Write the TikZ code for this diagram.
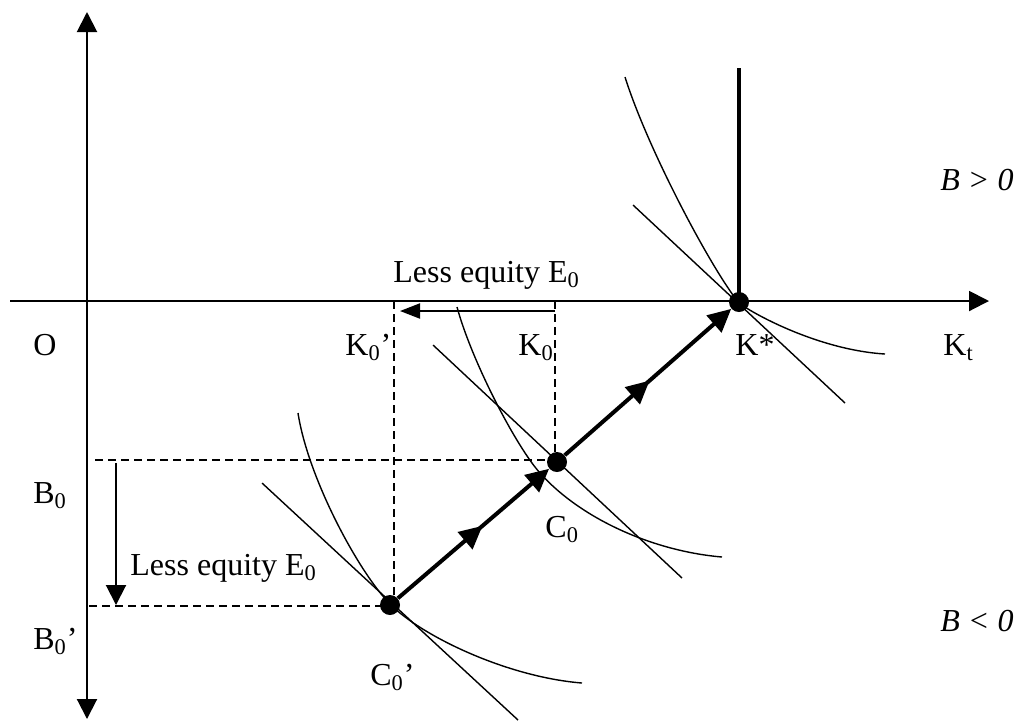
\documentclass[tikz,border=0pt]{standalone}
\usepackage{fontspec}
\setmainfont{Liberation Serif}
\usetikzlibrary{arrows.meta,decorations.markings}
\begin{document}
\begin{tikzpicture}[x=0.5pt,y=-0.5pt,
  axisline/.style={line width=1pt},
  curveline/.style={line width=0.7pt},
  guide/.style={line width=0.75pt,dash pattern=on 4pt off 2.5pt},
  dot/.style={circle,fill=black,inner sep=0pt,minimum size=10pt},
  lbl/.style={anchor=base west,inner sep=0pt,font=\fontsize{16}{19}\selectfont},
  thickpath/.style={line width=2pt},
  bigtip/.style={-{Triangle[length=11.5pt,width=11pt]}},
  axtip/.style={-{Triangle[length=10pt,width=10pt]}},
]
\useasboundingbox (0,0) rectangle (1016,720);

% axes
\draw[axisline,{Triangle[length=10pt,width=10pt]}-{Triangle[length=10pt,width=10pt]}] (87,719) -- (87,12);
\draw[axisline,axtip] (10,301) -- (989,301);

% indifference curves and tangent lines
\draw[curveline] (625,77) .. controls (648,150) and (712,270) .. (739,303) .. controls (755,315) and (820,350) .. (885,354);
\draw[curveline] (633,205) -- (845,403);
\draw[curveline] (457,307) .. controls (472,362) and (516.5,447) .. (540,473) .. controls (580,518) and (652,551) .. (722,557);
\draw[curveline] (433,345) -- (682,578);
\draw[curveline] (298,413) .. controls (308,478) and (358.5,572) .. (390,604) .. controls (421.5,636) and (507,677) .. (582,683);
\draw[curveline] (262,483) -- (518,720);

% dashed guides
\draw[guide] (394,301) -- (394,598);
\draw[guide] (555,301) -- (555,455);
\draw[guide] (95,460) -- (550,460);
\draw[guide] (89,606) -- (382,606);

% "less equity" arrows
\coordinate (hA) at (555,311);
\coordinate (hB) at (400,311);
\draw[axisline,-{Triangle[length=10pt,width=7.5pt]}] (hA) -- (hB);
\coordinate (vA) at (116,463);
\coordinate (vB) at (116,605);
\draw[axisline,axtip] (vA) -- (vB);

% points
\node[dot] (ks) at (739,302) {};
\node[dot] (c0) at (557,462) {};
\node[dot] (c0p) at (390,605) {};
\coordinate (kstop) at (739,68);
\draw[thickpath] (ks.center) -- (kstop);

\draw[thickpath,bigtip,postaction={decorate},
  decoration={markings,mark=at position 0.56 with {\arrow{Triangle[length=11.5pt,width=11pt]}}}]
  (c0p) -- (c0);
\draw[thickpath,bigtip,postaction={decorate},
  decoration={markings,mark=at position 0.51 with {\arrow{Triangle[length=11.5pt,width=11pt]}}}]
  (c0) -- (ks);

% labels
\node[lbl] (lO) at (33,355) {O};
\node[lbl] (lK0p) at (345,355) {K\textsubscript{0}’};
\node[lbl] (lK0) at (518,355) {K\textsubscript{0}};
\node[lbl] (lKs) at (735,355) {K*};
\node[lbl] (lKt) at (943,355) {K\textsubscript{t}};
\node[lbl] (lBpos) at (940,190) {\itshape B > 0};
\node[lbl] (lBneg) at (940,631) {\itshape B < 0};
\node[lbl] (lB0) at (33,503) {B\textsubscript{0}};
\node[lbl] (lB0p) at (33,649) {B\textsubscript{0}’};
\node[lbl] (lC0) at (545,537) {C\textsubscript{0}};
\node[lbl] (lC0p) at (370,685) {C\textsubscript{0}’};
\node[lbl] (lLE1) at (393,282) {Less equity E\textsubscript{0}};
\node[lbl] (lLE2) at (130,575) {Less equity E\textsubscript{0}};
\end{tikzpicture}
\end{document}
